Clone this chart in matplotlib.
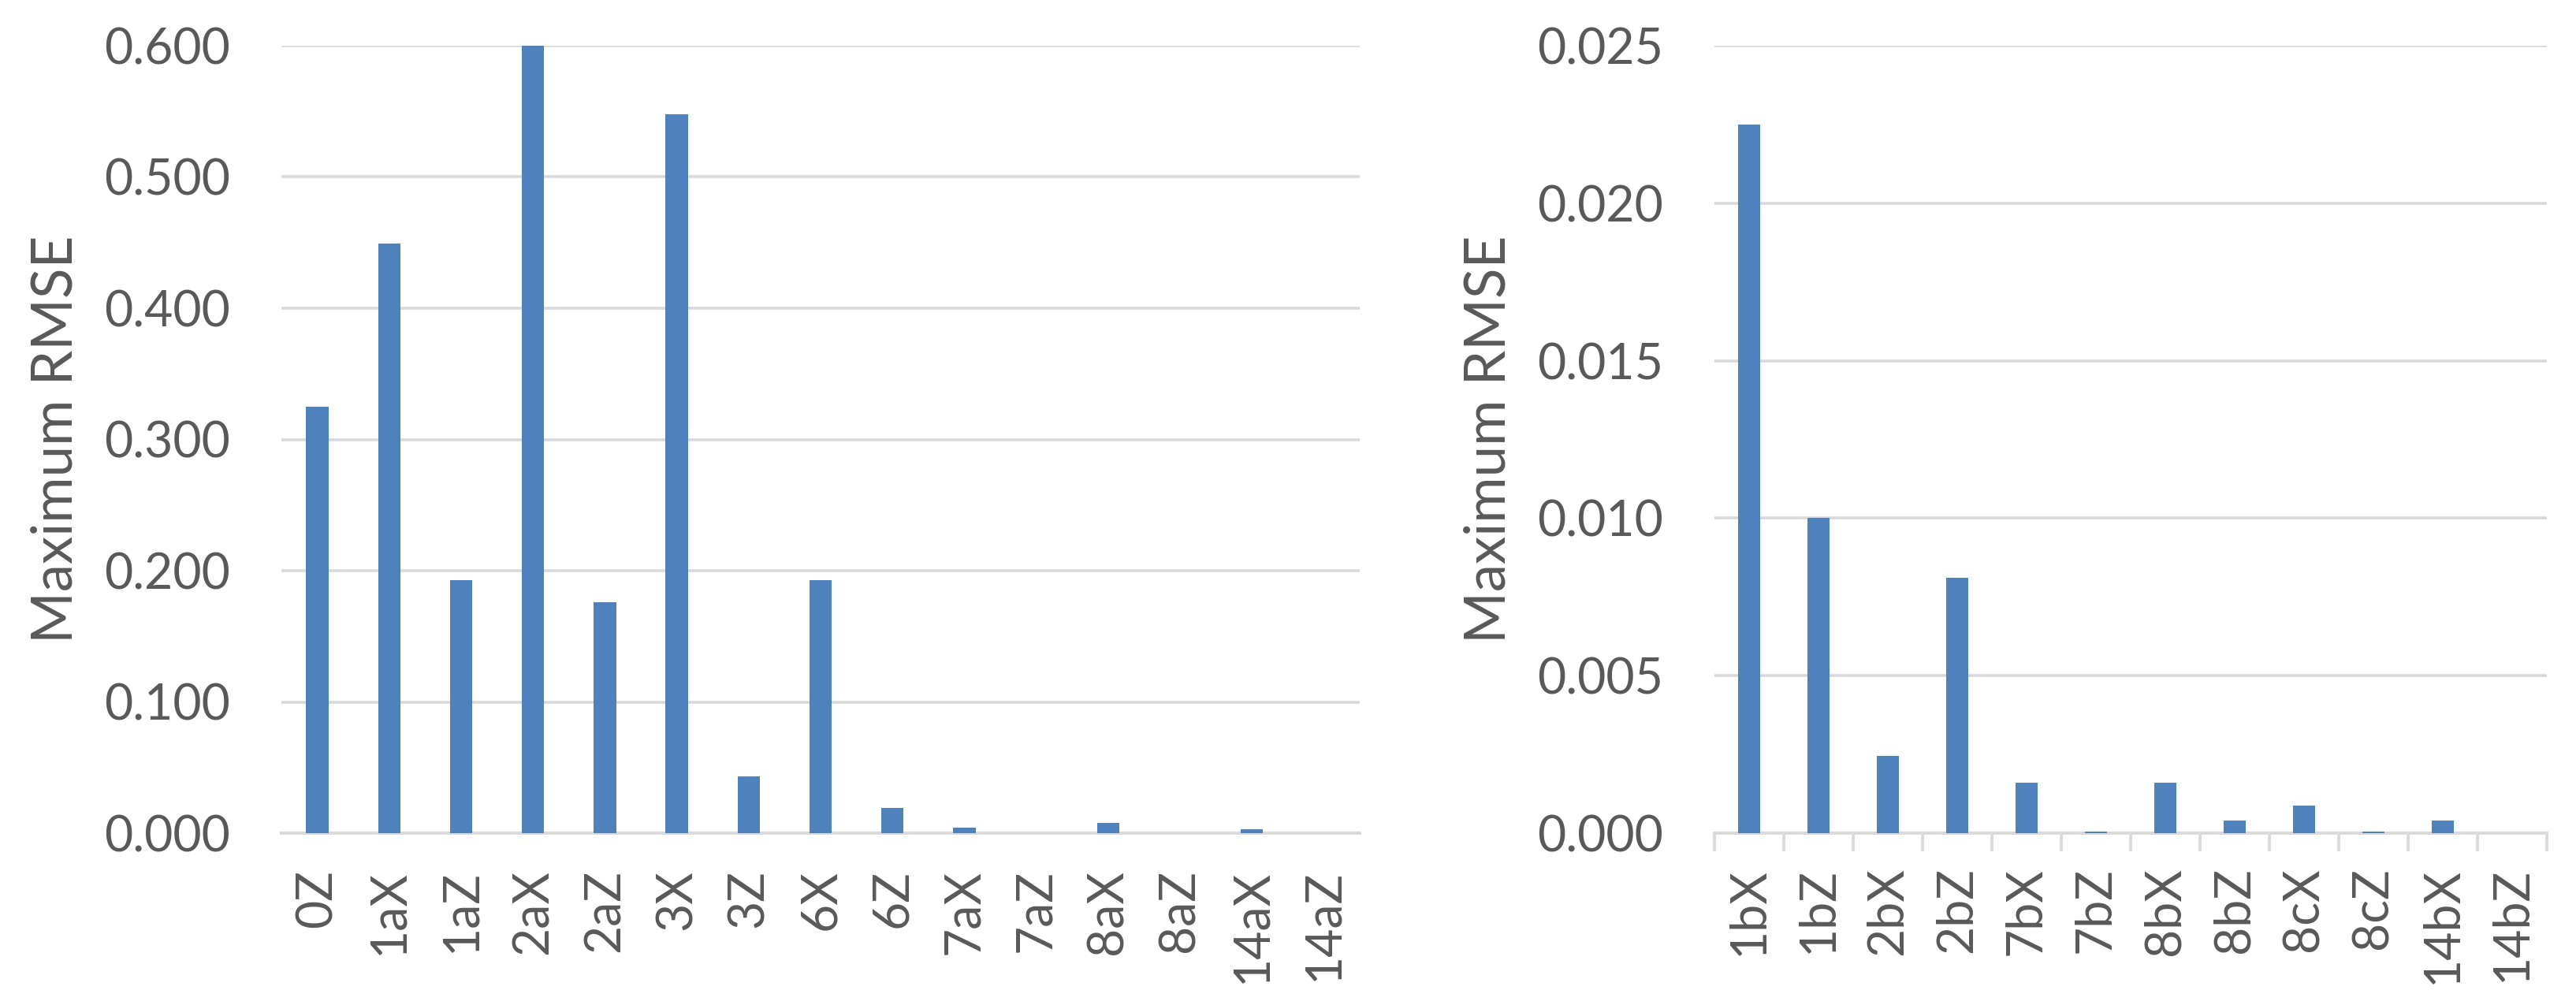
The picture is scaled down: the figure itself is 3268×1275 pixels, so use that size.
import numpy as np
import matplotlib
matplotlib.use("Agg")
import matplotlib.pyplot as plt
from matplotlib.ticker import FormatStrFormatter, MultipleLocator

# left panel: a-series
cats_a = ["0Z", "1aX", "1aZ", "2aX", "2aZ", "3X", "3Z", "6X", "6Z",
          "7aX", "7aZ", "8aX", "8aZ", "14aX", "14aZ"]
rmse_a = [0.325, 0.449, 0.193, 0.600, 0.176, 0.548, 0.043, 0.193, 0.019,
          0.004, 0.0, 0.008, 0.0, 0.003, 0.0]

# right panel: b/c-series
cats_b = ["1bX", "1bZ", "2bX", "2bZ", "7bX", "7bZ", "8bX", "8bZ", "8cX",
          "8cZ", "14bX", "14bZ"]
rmse_b = [0.0225, 0.0100, 0.00245, 0.0081, 0.0016, 0.00005, 0.0016, 0.0004,
          0.00088, 0.00005, 0.0004, 0.0]

BAR = "#4F81BD"
GRID = "#D9D9D9"
TXT = "#595959"
W, H, DPI = 3268, 1275, 100

plt.rcParams["font.family"] = ["Lato", "DejaVu Sans"]
fig = plt.figure(figsize=(W / DPI, H / DPI), dpi=DPI)

bot, top = 1 - 1057 / H, 1 - 58 / H
panels = [
    (357, 1725, cats_a, rmse_a, 0.6, 0.1, False),
    (2175, 3231, cats_b, rmse_b, 0.025, 0.005, True),
]
for x0, x1, cats, vals, ymax, step, ticks in panels:
    ax = fig.add_axes([x0 / W, bot, (x1 - x0) / W, top - bot])
    x = np.arange(len(cats))
    ax.bar(x, vals, width=0.31, color=BAR, zorder=3)
    ax.set_xlim(-0.5, len(cats) - 0.5)
    ax.set_ylim(0, ymax)
    ax.yaxis.set_major_locator(MultipleLocator(step))
    ax.yaxis.set_major_formatter(FormatStrFormatter("%.3f"))
    ax.grid(axis="y", color=GRID, lw=2.6, zorder=0)
    for s in ["left", "right", "top"]:
        ax.spines[s].set_visible(False)
    ax.spines["bottom"].set_color(GRID)
    ax.spines["bottom"].set_linewidth(2.8)
    ax.spines["bottom"].set_zorder(2)
    ax.tick_params(axis="y", length=0, pad=47, labelsize=45, labelcolor=TXT)
    ax.set_xticks(x)
    ax.set_xticklabels(cats, rotation=90)
    if ticks:
        ax.set_xticks(np.arange(len(cats) + 1) - 0.5, minor=True)
        ax.tick_params(axis="x", which="minor", length=16.5, width=2.6, color=GRID)
        ax.tick_params(axis="x", which="major", length=0, pad=31, labelsize=45,
                       labelcolor=TXT)
    else:
        ax.tick_params(axis="x", length=0, pad=33, labelsize=45, labelcolor=TXT)
    ax.set_ylabel("Maximum RMSE", fontsize=51, color=TXT, va="center")
    ax.yaxis.set_label_coords(-286 / (x1 - x0), 0.5)

fig.savefig("out.png", dpi=DPI)
